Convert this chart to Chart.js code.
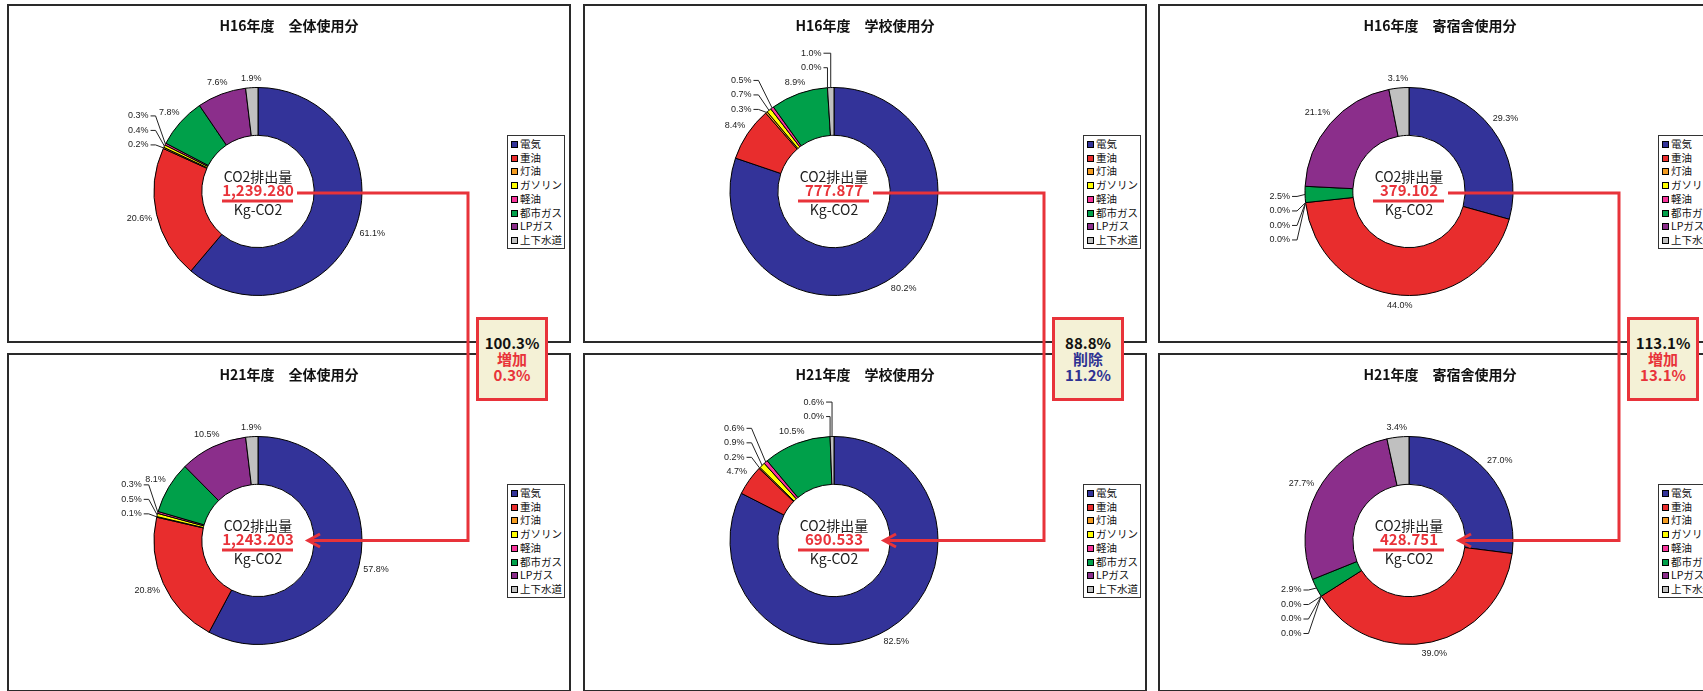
<!DOCTYPE html>
<html lang="ja">
<head>
<meta charset="utf-8">
<title>CO2排出量</title>
<script src="https://cdn.jsdelivr.net/npm/chart.js@4.4.1/dist/chart.umd.min.js"></script>
<style>
  body { margin: 0; width: 1703px; height: 691px; overflow: hidden; background: #fff; position: relative;
         font-family: "Noto Sans CJK JP", sans-serif; }
  .panel { position: absolute; width: 564px; height: 339px; background: #fff; box-shadow: inset 0 0 0 2px #2a2a2a; }
  .panel canvas { position: absolute; left: 0; top: 0; }
  .panel .title { position: absolute; left: 0; right: 0; top: 13px; line-height: 16px; text-align: center;
                  font-weight: bold; font-size: 14px; color: #111; }
  .legend { position: absolute; left: 500px; top: 131px; width: 58px; box-sizing: border-box; border: 1px solid #333;
            background: #fff; padding: 1px 0 1px 3px; font-size: 10.5px; line-height: 13.7px; color: #111;
            white-space: nowrap; overflow: hidden; }
  .legend .sw { display: inline-block; width: 5px; height: 5px; border: 1px solid #000; margin-right: 2px;
                vertical-align: 0px; }
  #links { position: absolute; left: 0; top: 0; }
  .ratio { position: absolute; top: 317px; width: 72px; height: 84px; box-sizing: border-box; border: 3px solid #e8333a;
           background: #f4f1d6; text-align: center; font-weight: bold; font-size: 15px; line-height: 16px;
           padding-top: 15px; color: #111; }
</style>
</head>
<body>
<svg id="links" width="1703" height="691"></svg>
<script>
// 排出源カテゴリと色
const categories = ['電気', '重油', '灯油', 'ガソリン', '軽油', '都市ガス', 'LPガス', '上下水道'];
const sliceColors = ['#333399', '#e82d2d', '#f39c22', '#ffff00', '#f5349a', '#00a04a', '#8b2e8b', '#c0c0c0'];

const years = ['H16年度', 'H21年度'];
const scopes = ['全体使用分', '学校使用分', '寄宿舎使用分'];

// 構成比 (%)
const h16All = [61.1, 20.6, 0.2, 0.4, 0.3, 7.8, 7.6, 1.9];
const h16School = [80.2, 8.4, 0.3, 0.7, 0.5, 8.9, 0.0, 1.0];
const h16Dorm = [29.3, 44.0, 0.0, 0.0, 0.0, 2.5, 21.1, 3.1];
const h21All = [57.8, 20.8, 0.1, 0.5, 0.3, 8.1, 10.5, 1.9];
const h21School = [82.5, 4.7, 0.2, 0.9, 0.6, 10.5, 0.0, 0.6];
const h21Dorm = [27.0, 39.0, 0.0, 0.0, 0.0, 2.9, 27.7, 3.4];

// CO2排出量 (Kg-CO2)
const co2H16 = [1239.280, 777.877, 379.102];
const co2H21 = [1243.203, 690.533, 428.751];

const shares = [[h16All, h16School, h16Dorm], [h21All, h21School, h21Dorm]];
const totals = [co2H16, co2H21];

const panelLeft = [7, 583, 1158];
const panelTop = [4, 353];
const RED = '#e8333a';
const BLUE = '#2e3192';

// 外側ラベル（小さい項目は引出線付きで積み上げ）
const sliceLabels = {
  id: 'sliceLabels',
  afterDatasetsDraw(chart) {
    const arcs = chart.getDatasetMeta(0).data;
    const values = chart.data.datasets[0].data;
    const ctx = chart.ctx;
    const cx = arcs[0].x, cy = arcs[0].y, R = arcs[0].outerRadius;
    ctx.save();
    ctx.font = '9px "Liberation Sans", Arial, sans-serif';
    ctx.fillStyle = '#222';
    ctx.strokeStyle = '#222';
    ctx.lineWidth = 1;
    ctx.textBaseline = 'middle';

    const text = v => v.toFixed(1) + '%';
    const midAngle = a => (a.startAngle + a.endAngle) / 2;
    const anchorOf = i => {
      const m = midAngle(arcs[i]);
      return { x: cx + Math.cos(m) * R, y: cy + Math.sin(m) * R };
    };
    const natural = i => {
      const m = midAngle(arcs[i]);
      const dx = Math.cos(m), dy = Math.sin(m);
      const hw = ctx.measureText(text(values[i])).width / 2;
      const dist = R + 4 + hw * Math.abs(dx) + 5 * Math.abs(dy);
      return { x: cx + dx * dist, y: cy + dy * dist };
    };

    const groups = [];
    let run = [];
    values.forEach((v, i) => {
      if (v < 3) run.push(i);
      else { if (run.length) groups.push(run); run = []; }
    });
    if (run.length) groups.push(run);

    const stacked = new Set();
    groups.filter(g => g.length > 1).forEach(g => {
      g.forEach(i => stacked.add(i));
      const anchors = g.map(anchorOf);
      const meanA = (midAngle(arcs[g[0]]) + midAngle(arcs[g[g.length - 1]])) / 2;
      const mdx = Math.cos(meanA), mdy = Math.sin(meanA);
      const last = g.length - 1;
      let pos;
      if (Math.abs(mdx) < 0.35 && mdy < 0) {
        const rx = anchors[0].x - 6;
        pos = g.map((_, k) => ({ rx, y: anchors[0].y - 20 - 14.5 * k, elbow: anchors[k].x }));
      } else if (anchors[0].y < cy) {
        // 直前の項目のラベルと重ならないように上へ積む
        const rx = anchors[0].x - 15;
        let base = anchors[0].y - 3;
        if (g[0] > 0) {
          const prev = natural(g[0] - 1);
          if (prev.y < cy) base = Math.min(base, prev.y - 14);
        }
        pos = g.map((_, k) => ({ rx, y: base - 14.5 * k, elbow: rx + 7 }));
      } else {
        const rx = anchors[last].x - 15;
        pos = g.map((_, k) => ({ rx, y: anchors[last].y + 2 + 14.5 * (last - k), elbow: rx + 7 }));
      }
      ctx.textAlign = 'right';
      g.forEach((i, k) => {
        const p = pos[k];
        ctx.fillText(text(values[i]), p.rx, p.y);
        ctx.beginPath();
        ctx.moveTo(p.rx + 2, p.y);
        ctx.lineTo(p.elbow, p.y);
        ctx.lineTo(anchors[k].x, anchors[k].y);
        ctx.stroke();
      });
    });

    ctx.textAlign = 'center';
    values.forEach((v, i) => {
      if (stacked.has(i)) return;
      const p = natural(i);
      ctx.fillText(text(v), p.x, p.y);
    });
    ctx.restore();
  }
};

// 中央のCO2排出量表示
const centerTotal = {
  id: 'centerTotal',
  afterDraw(chart, args, opts) {
    const arc = chart.getDatasetMeta(0).data[0];
    const ctx = chart.ctx;
    const cx = arc.x, cy = arc.y;
    ctx.save();
    ctx.textAlign = 'center';
    ctx.textBaseline = 'middle';
    ctx.fillStyle = '#222';
    ctx.font = '14px "Noto Sans CJK JP"';
    ctx.fillText('CO2排出量', cx, cy - 15);
    ctx.fillStyle = RED;
    ctx.font = 'bold 15px "Noto Sans CJK JP"';
    ctx.fillText(opts.value.toLocaleString('en-US', { minimumFractionDigits: 3 }), cx, cy - 1);
    ctx.fillRect(cx - 36, cy + 8, 71, 3);
    ctx.fillStyle = '#222';
    ctx.font = '14px "Noto Sans CJK JP"';
    ctx.fillText('Kg-CO2', cx, cy + 18);
    ctx.restore();
  }
};

const centers = [[], []];

years.forEach((year, r) => {
  scopes.forEach((scope, c) => {
    const panel = document.createElement('div');
    panel.className = 'panel';
    panel.style.left = panelLeft[c] + 'px';
    panel.style.top = panelTop[r] + 'px';

    const canvas = document.createElement('canvas');
    canvas.width = 564;
    canvas.height = 339;
    panel.appendChild(canvas);

    const title = document.createElement('div');
    title.className = 'title';
    title.textContent = year + '\u3000' + scope;
    panel.appendChild(title);

    const legend = document.createElement('div');
    legend.className = 'legend';
    legend.innerHTML = categories.map((name, i) =>
      `<div><span class="sw" style="background:${sliceColors[i]}"></span>${name}</div>`).join('');
    panel.appendChild(legend);

    document.body.insertBefore(panel, document.getElementById('links'));

    const chart = new Chart(canvas, {
      type: 'doughnut',
      data: {
        labels: categories,
        datasets: [{
          data: shares[r][c],
          backgroundColor: sliceColors,
          borderColor: '#000',
          borderWidth: 1
        }]
      },
      options: {
        responsive: false,
        animation: false,
        events: [],
        cutout: '54%',
        layout: { padding: { left: 146.5, right: 208.5, top: 83, bottom: 47 } },
        plugins: {
          legend: { display: false },
          tooltip: { enabled: false },
          centerTotal: { value: totals[r][c] }
        }
      },
      plugins: [sliceLabels, centerTotal]
    });

    const arc = chart.getDatasetMeta(0).data[0];
    centers[r][c] = { x: panelLeft[c] + arc.x, y: panelTop[r] + arc.y };
  });
});

// H16 → H21 の比較線と増減ボックス
const svg = document.getElementById('links');
scopes.forEach((scope, c) => {
  const top = centers[0][c], bot = centers[1][c];
  const vx = top.x + 210;
  const y0 = top.y + 1.5;
  const tip = bot.x + 50;
  svg.insertAdjacentHTML('beforeend',
    `<path d="M${top.x + 39},${y0} H${vx} V${bot.y} H${tip + 1}" fill="none" stroke="${RED}" stroke-width="3"/>` +
    `<path d="M${tip + 12},${bot.y - 6.5} L${tip},${bot.y} L${tip + 12},${bot.y + 6.5}" fill="none" stroke="${RED}" stroke-width="3"/>`);

  const ratio = co2H21[c] / co2H16[c] * 100;
  const up = ratio >= 100;
  const box = document.createElement('div');
  box.className = 'ratio';
  box.style.left = (vx + 8) + 'px';
  const col = up ? RED : BLUE;
  box.innerHTML = `<div>${ratio.toFixed(1)}%</div>` +
    `<div style="color:${col}">${up ? '増加' : '削除'}</div>` +
    `<div style="color:${col}">${Math.abs(ratio - 100).toFixed(1)}%</div>`;
  document.body.appendChild(box);
});
</script>
</body>
</html>
